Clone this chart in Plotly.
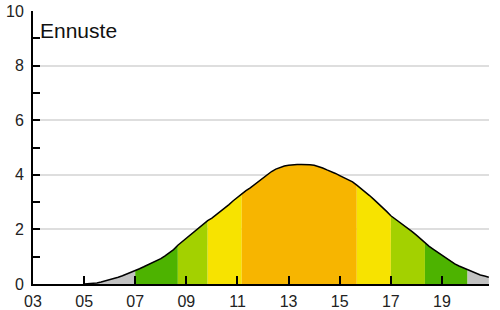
import plotly.graph_objects as go

# Forecast values, 10-minute steps starting 05:00
start_hour = 5.0
step_min = 10
values = [
    0.00, 0.01, 0.02, 0.04, 0.07, 0.11,   # 05:00-05:50
    0.16, 0.20, 0.25, 0.30, 0.36, 0.42,   # 06
    0.49, 0.56, 0.63, 0.70, 0.78, 0.85,   # 07
    0.93, 1.03, 1.14, 1.26, 1.42, 1.55,   # 08
    1.67, 1.80, 1.94, 2.08, 2.20, 2.32,   # 09
    2.41, 2.53, 2.65, 2.77, 2.91, 3.05,   # 10
    3.18, 3.32, 3.42, 3.52, 3.64, 3.78,   # 11
    3.91, 4.02, 4.12, 4.21, 4.27, 4.32,   # 12
    4.35, 4.37, 4.38, 4.38, 4.38, 4.37,   # 13
    4.35, 4.31, 4.25, 4.18, 4.12, 4.05,   # 14
    3.97, 3.90, 3.83, 3.74, 3.62, 3.50,   # 15
    3.38, 3.24, 3.10, 2.96, 2.82, 2.66,   # 16
    2.50, 2.39, 2.28, 2.16, 2.04, 1.92,   # 17
    1.79, 1.65, 1.51, 1.38, 1.27, 1.16,   # 18
    1.06, 0.95, 0.84, 0.74, 0.66, 0.59,   # 19
    0.53, 0.45, 0.39, 0.33, 0.29, 0.25,   # 20
]

# Colour bands: start time (HH:MM) and colour
band_starts = ["05:00", "07:00", "08:40", "09:50", "11:10", "15:40", "17:00", "18:20", "20:00"]
band_colors = ["#c2c2c2", "#4db300", "#a3d100", "#f7e300", "#f7b500",
               "#f7e300", "#a3d100", "#4db300", "#c2c2c2"]

x_tickvals = [3, 5, 7, 9, 11, 13, 15, 17, 19]
x_ticktext = ["03", "05", "07", "09", "11", "13", "15", "17", "19"]
y_tickvals = [0, 2, 4, 6, 8, 10]
y_ticktext = ["0", "2", "4", "6", "8", "10"]
title_text = "Ennuste"

hours = [start_hour + i * step_min / 60 for i in range(len(values))]


def hm_to_idx(s):
    h, m = s.split(":")
    return int(round(((int(h) + int(m) / 60) - start_hour) * 60 / step_min))


fig = go.Figure()
idxs = [hm_to_idx(s) for s in band_starts] + [len(values) - 1]
for k, col in enumerate(band_colors):
    a, b = idxs[k], idxs[k + 1]
    fig.add_trace(go.Scatter(
        x=hours[a:b + 1], y=values[a:b + 1], mode="lines",
        line=dict(width=0, color=col), fill="tozeroy", fillcolor=col,
        hoverinfo="skip", showlegend=False))

fig.add_trace(go.Scatter(x=hours, y=values, mode="lines",
                         line=dict(color="black", width=1.5), showlegend=False))

fig.add_annotation(x=0, xref="paper", y=9.27, yref="y", text=title_text,
                   showarrow=False, xanchor="left", yanchor="middle", xshift=5,
                   font=dict(family="Liberation Sans, Arial", size=21, color="#111"))

fig.update_layout(
    template="none",
    width=500, height=310,
    margin=dict(l=33, r=11, t=11, b=26, autoexpand=False),
    paper_bgcolor="white", plot_bgcolor="white",
    font=dict(family="Liberation Sans, Arial", size=16, color="#222"),
    xaxis=dict(range=[3, 20.84], tickvals=x_tickvals, ticktext=x_ticktext,
               ticks="inside", ticklen=8, tickwidth=2, tickcolor="black",
               showline=True, linecolor="black", linewidth=2, automargin=False,
               showgrid=False, zeroline=False, ticklabelstandoff=2),
    yaxis=dict(range=[0, 10], tickvals=y_tickvals, ticktext=y_ticktext,
               ticks="inside", ticklen=7, tickwidth=2, tickcolor="black",
               showline=True, linecolor="black", linewidth=2, automargin=False,
               showgrid=True, gridcolor="#dedede", gridwidth=1.5,
               zeroline=False, ticklabelstandoff=4,
               minor=dict(dtick=1, tick0=0, ticks="inside", ticklen=7,
                          tickwidth=2, tickcolor="black", showgrid=False)),
)

fig.write_html("out.html")
